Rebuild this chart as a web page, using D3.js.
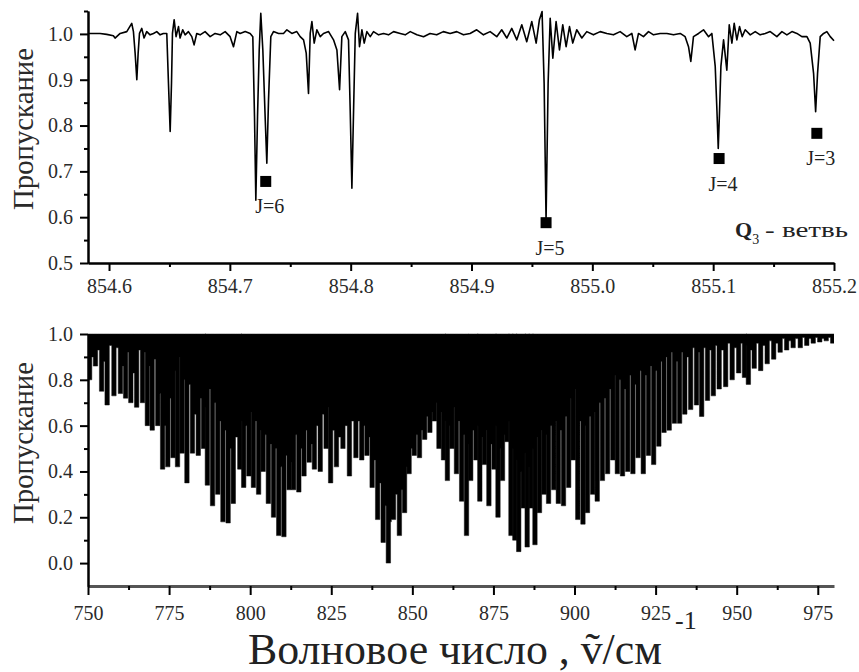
<!DOCTYPE html>
<html>
<head>
<meta charset="utf-8">
<script src="https://cdn.jsdelivr.net/npm/d3@7"></script>
<style>
  body { margin: 0; background: #fff; }
</style>
</head>
<body>
<div class="viz"></div>
<script>
/* top panel: Q3 branch, [wavenumber, transmission] */
const qBranch = [
  [854.5829,1.001],[854.5926,1.001],[854.5981,0.999],[854.6036,0.996],[854.6050,0.991],[854.6092,1.001],
  [854.6147,1.005],[854.6188,1.023],[854.6202,1.005],[854.6216,0.958],[854.6230,0.900],[854.6241,0.958],
  [854.6252,1.001],[854.6271,1.012],[854.6290,0.991],[854.6312,1.005],[854.6340,0.998],[854.6368,1.001],
  [854.6395,1.005],[854.6423,0.998],[854.6450,1.001],[854.6478,1.001],[854.6492,0.892],[854.6506,0.787],
  [854.6517,0.892],[854.6525,1.001],[854.6539,1.031],[854.6555,0.994],[854.6575,1.016],[854.6588,0.991],
  [854.6610,1.009],[854.6630,0.998],[854.6657,1.005],[854.6685,0.994],[854.6704,0.976],[854.6726,1.001],
  [854.6754,0.998],[854.6795,1.005],[854.6837,0.994],[854.6878,1.001],[854.6920,0.998],[854.6961,1.005],
  [854.7002,0.994],[854.7030,0.972],[854.7058,1.005],[854.7085,1.001],[854.7127,1.005],[854.7168,1.001],
  [854.7190,0.994],[854.7204,0.819],[854.7215,0.637],[854.7229,0.819],[854.7243,0.965],[854.7256,1.045],
  [854.7273,0.965],[854.7292,0.819],[854.7306,0.718],[854.7320,0.856],[854.7339,0.994],[854.7361,1.005],
  [854.7403,1.001],[854.7444,1.001],[854.7472,1.009],[854.7513,1.001],[854.7554,1.005],[854.7582,0.994],
  [854.7610,0.987],[854.7632,0.958],[854.7651,0.870],[854.7665,1.001],[854.7679,1.027],[854.7698,0.980],
  [854.7720,1.009],[854.7748,0.994],[854.7775,1.001],[854.7817,1.005],[854.7858,0.987],[854.7886,0.965],
  [854.7908,0.878],[854.7927,0.994],[854.7955,1.005],[854.7982,0.987],[854.7996,0.834],[854.8010,0.663],
  [854.8024,0.834],[854.8038,1.001],[854.8057,1.045],[854.8073,0.972],[854.8093,1.009],[854.8112,0.980],
  [854.8134,1.005],[854.8162,0.994],[854.8189,1.005],[854.8231,0.998],[854.8272,1.001],[854.8313,0.998],
  [854.8355,1.005],[854.8410,1.001],[854.8451,0.998],[854.8493,1.005],[854.8548,0.998],[854.8603,0.994],
  [854.8657,1.001],[854.8712,0.998],[854.8767,1.005],[854.8823,1.001],[854.8878,1.005],[854.8933,0.998],
  [854.8988,1.001],[854.9043,1.009],[854.9099,0.998],[854.9154,1.005],[854.9209,0.994],[854.9250,1.009],
  [854.9292,0.991],[854.9333,1.012],[854.9375,0.987],[854.9416,1.020],[854.9457,0.983],[854.9499,1.027],
  [854.9535,0.980],[854.9562,1.031],[854.9584,1.049],[854.9601,0.892],[854.9617,0.594],[854.9634,0.892],
  [854.9651,1.034],[854.9673,0.947],[854.9700,1.027],[854.9728,0.965],[854.9755,1.020],[854.9783,0.972],
  [854.9811,1.016],[854.9838,0.980],[854.9871,1.009],[854.9913,0.991],[854.9954,1.005],[855.0009,0.998],
  [855.0065,1.005],[855.0120,1.001],[855.0175,0.998],[855.0230,1.005],[855.0285,0.994],[855.0327,1.001],
  [855.0354,0.965],[855.0382,1.001],[855.0423,0.994],[855.0465,1.005],[855.0506,0.998],[855.0561,1.001],
  [855.0617,1.001],[855.0672,0.998],[855.0727,1.001],[855.0768,0.994],[855.0796,0.972],[855.0815,0.940],
  [855.0837,0.994],[855.0879,1.001],[855.0920,1.009],[855.0962,0.994],[855.0989,1.001],[855.1017,0.929],
  [855.1031,0.834],[855.1042,0.750],[855.1053,0.834],[855.1064,0.929],[855.1086,0.987],[855.1113,0.921],
  [855.1133,1.020],[855.1155,0.980],[855.1174,1.023],[855.1196,0.987],[855.1218,1.016],[855.1240,0.994],
  [855.1265,1.009],[855.1307,0.998],[855.1348,1.005],[855.1389,0.998],[855.1431,1.001],[855.1472,1.005],
  [855.1527,0.994],[855.1569,1.005],[855.1610,0.998],[855.1652,1.005],[855.1693,1.001],[855.1734,0.994],
  [855.1776,0.994],[855.1803,0.980],[855.1831,0.914],[855.1848,0.830],[855.1864,0.914],[855.1886,0.994],
  [855.1914,1.001],[855.1941,1.005],[855.1969,0.994],[855.2000,0.985]
];

/* assigned J lines */
const lineNu = [854.7297, 854.9617, 855.1049, 855.1858];
const lineT = [0.678, 0.588, 0.728, 0.783];
const lineJ = ["J=6", "J=5", "J=4", "J=3"];

/* bottom panel: whole band, [wavenumber, line bottom, transmission between lines] */
const band = [
  [750.5,0.80,0.90],[752.3,0.86,0.93],[754.2,0.75,0.88],[755.9,0.69,0.95],[758.0,0.73,0.94],
  [760.0,0.74,0.86],[761.6,0.72,0.92],[763.2,0.70,0.83],[765.0,0.68,0.93],[766.8,0.70,0.92],
  [768.3,0.60,0.86],[769.8,0.58,0.89],[771.5,0.60,0.74],[773.0,0.41,0.60],[774.6,0.42,0.72],
  [776.2,0.46,0.84],[777.6,0.42,0.90],[779.0,0.48,0.80],[780.5,0.35,0.78],[782.2,0.48,0.65],
  [784.0,0.47,0.72],[785.6,0.50,0.68],[786.8,0.34,0.76],[788.4,0.25,0.70],[790.0,0.30,0.62],
  [791.6,0.18,0.58],[793.2,0.175,0.50],[794.8,0.26,0.55],[796.8,0.41,0.62],[798.0,0.33,0.60],
  [799.6,0.38,0.66],[801.0,0.33,0.62],[802.6,0.30,0.58],[804.0,0.40,0.56],[805.6,0.26,0.52],
  [807.2,0.20,0.50],[808.8,0.12,0.42],[810.4,0.115,0.47],[812.0,0.32,0.44],[813.4,0.32,0.56],
  [815.0,0.31,0.50],[816.6,0.38,0.58],[818.2,0.44,0.52],[819.8,0.41,0.60],[821.6,0.40,0.65],
  [823.4,0.50,0.68],[824.8,0.35,0.58],[826.6,0.42,0.55],[828.6,0.50,0.60],[830.6,0.38,0.62],
  [832.6,0.46,0.62],[834.4,0.45,0.60],[836.0,0.47,0.55],[837.6,0.33,0.45],[839.3,0.19,0.35],
  [841.0,0.09,0.25],[842.6,0.0,0.18],[844.2,0.19,0.30],[846.0,0.12,0.32],[847.6,0.22,0.42],
  [849.0,0.39,0.50],[850.6,0.47,0.56],[852.2,0.46,0.58],[853.8,0.54,0.64],[855.4,0.57,0.66],
  [856.8,0.62,0.70],[858.2,0.50,0.66],[859.6,0.45,0.62],[860.8,0.36,0.60],[862.2,0.50,0.68],
  [863.6,0.39,0.62],[865.2,0.27,0.56],[866.7,0.12,0.52],[868.0,0.36,0.58],[869.6,0.45,0.60],
  [870.8,0.27,0.55],[872.2,0.43,0.58],[873.6,0.25,0.52],[875.2,0.41,0.60],[876.4,0.20,0.50],
  [877.8,0.36,0.56],[879.2,0.53,0.62],[880.4,0.12,0.50],[881.6,0.10,0.45],[882.8,0.05,0.40],
  [884.2,0.24,0.48],[885.4,0.07,0.42],[886.6,0.24,0.50],[887.8,0.08,0.55],[889.2,0.22,0.58],
  [890.6,0.30,0.56],[892.0,0.26,0.60],[893.6,0.32,0.62],[895.0,0.26,0.58],[896.6,0.25,0.64],
  [898.2,0.33,0.72],[899.6,0.45,0.76],[901.0,0.19,0.62],[902.6,0.17,0.60],[904.0,0.22,0.64],
  [905.6,0.30,0.66],[907.0,0.27,0.70],[908.6,0.36,0.72],[910.2,0.39,0.76],[911.8,0.45,0.82],
  [913.2,0.39,0.80],[914.8,0.38,0.76],[916.4,0.40,0.82],[918.0,0.39,0.78],[919.6,0.46,0.84],
  [921.2,0.39,0.82],[922.8,0.47,0.86],[924.4,0.43,0.84],[926.0,0.51,0.88],[927.6,0.57,0.90],
  [929.2,0.58,0.92],[930.8,0.61,0.88],[932.4,0.61,0.92],[934.0,0.65,0.90],[935.8,0.67,0.94],
  [937.6,0.69,0.92],[939.2,0.64,0.94],[941.0,0.71,0.93],[942.8,0.73,0.95],[944.6,0.76,0.93],
  [946.6,0.77,0.96],[948.6,0.80,0.94],[950.6,0.83,0.96],[952.4,0.81,0.95],[953.6,0.78,0.93],
  [955.4,0.85,0.96],[957.4,0.84,0.95],[959.4,0.87,0.97],[961.4,0.89,0.96],[963.4,0.92,0.98],
  [965.4,0.93,0.97],[967.4,0.94,0.98],[969.6,0.94,0.985],[971.6,0.95,0.98],[973.6,0.96,0.985],
  [975.6,0.965,0.98],[977.6,0.97,0.985],[979.6,0.96,0.97]
];

const topXTicks = [854.6, 854.7, 854.8, 854.9, 855.0, 855.1, 855.2];
const topXMinor = [854.65, 854.75, 854.85, 854.95, 855.05, 855.15];
const topYTicks = [0.5, 0.6, 0.7, 0.8, 0.9, 1.0];
const topYMinor = [0.55, 0.65, 0.75, 0.85, 0.95, 1.05];
const botXTicks = [750, 775, 800, 825, 850, 875, 900, 925, 950, 975];
const botXMinor = [762.5, 787.5, 812.5, 837.5, 862.5, 887.5, 912.5, 937.5, 962.5];
const botYTicks = [0.0, 0.2, 0.4, 0.6, 0.8, 1.0];
const botYMinor = [0.1, 0.3, 0.5, 0.7, 0.9];

// the figure is set in a Times-like face; use the first serif face that is really installed
function pickFont(list) {
  var ctx = document.createElement("canvas").getContext("2d");
  var probe = "Волновое mmmWWlli 854.6";
  var found = null;
  ["monospace", "sans-serif"].forEach(function (gen) {
    ctx.font = "40px " + gen;
    var base = ctx.measureText(probe).width;
    list.forEach(function (f) {
      if (found) return;
      ctx.font = "40px '" + f + "', " + gen;
      if (Math.abs(ctx.measureText(probe).width - base) > 0.5) found = f;
    });
  });
  return found;
}
var face = pickFont(["Liberation Serif", "Tinos", "Times New Roman", "DejaVu Serif",
  "Noto Serif", "FreeSerif", "Nimbus Roman", "Noto Serif CJK SC", "Noto Serif CJK JP"]);
const serif = (face ? '"' + face + '", ' : '') + '"Liberation Sans", Arimo, sans-serif';

const W = 859, H = 672;
var svg = d3.select(".viz").append("svg")
  .attr("width", W).attr("height", H)
  .attr("font-family", serif);

// scales
var tx = d3.scaleLinear().domain([854.5826, 855.2]).range([88, 834]);
var ty = d3.scaleLinear().domain([0.5, 1.05]).range([263, 11]);
var bx = d3.scaleLinear().domain([750, 980]).range([88, 834]);
var by = d3.scaleLinear().domain([-0.1, 1.0]).range([586, 334]);

function drawAxis(g, axis, width, color) {
  g.call(axis).attr("font-family", serif).attr("font-size", 20);
  g.select(".domain").attr("stroke", color || "#000").attr("stroke-width", width);
  g.selectAll(".tick line").attr("stroke", "#000").attr("stroke-width", 2);
  g.selectAll(".tick text").attr("fill", "#2a2a2a");
}

// scale a text so that its run matches the length it has in the figure
function fitText(sel, size, length) {
  sel.attr("font-size", size);
  var w = sel.node().getComputedTextLength();
  sel.attr("font-size", size * length / w);
}

/* ---------- top panel ---------- */
svg.append("clipPath").attr("id", "clipTop")
  .append("rect").attr("x", 88).attr("y", 0).attr("width", 748).attr("height", 263);

svg.append("path")
  .datum(qBranch)
  .attr("clip-path", "url(#clipTop)")
  .attr("fill", "none")
  .attr("stroke", "#000")
  .attr("stroke-width", 1.6)
  .attr("stroke-linejoin", "round")
  .attr("d", d3.line().x(d => tx(d[0])).y(d => ty(d[1])));

svg.append("g").selectAll("rect")
  .data(lineNu).enter().append("rect")
  .attr("x", (d) => tx(d) - 5.5)
  .attr("y", (d, i) => ty(lineT[i]) - 5.5)
  .attr("width", 11).attr("height", 11)
  .attr("fill", "#000");

svg.append("g").selectAll("text")
  .data(lineJ).enter().append("text")
  .attr("x", (d, i) => tx(lineNu[i]) + 4)
  .attr("y", (d, i) => ty(lineT[i]) + 32)
  .attr("text-anchor", "middle")
  .attr("fill", "#222")
  .attr("font-size", 20)
  .text((d) => d);

// Q3 branch label
var qlab = svg.append("text").attr("x", 735).attr("y", 237).attr("fill", "#222");
qlab.append("tspan").attr("font-weight", "bold").attr("font-size", 22).text("Q");
qlab.append("tspan").attr("dy", 7).attr("font-size", 14).text("3");
svg.append("text").attr("x", 765).attr("y", 237).attr("fill", "#222")
  .attr("font-size", 22)
  .attr("textLength", 83).attr("lengthAdjust", "spacingAndGlyphs")
  .text("- ветвь");

drawAxis(svg.append("g").attr("transform", "translate(0,263)"),
  d3.axisBottom(tx).tickValues(topXTicks).tickFormat(d3.format(".1f"))
    .tickSize(8).tickSizeOuter(0).tickPadding(8), 2);
drawAxis(svg.append("g").attr("transform", "translate(0,263)"),
  d3.axisBottom(tx).tickValues(topXMinor).tickFormat("").tickSize(4).tickSizeOuter(0), 2);
drawAxis(svg.append("g").attr("transform", "translate(88,0)"),
  d3.axisLeft(ty).tickValues(topYTicks).tickFormat(d3.format(".1f"))
    .tickSize(8).tickSizeOuter(0).tickPadding(7), 2);
drawAxis(svg.append("g").attr("transform", "translate(88,0)"),
  d3.axisLeft(ty).tickValues(topYMinor).tickFormat("").tickSize(4).tickSizeOuter(0), 2);

/* ---------- bottom panel ---------- */
svg.append("clipPath").attr("id", "clipBot")
  .append("rect").attr("x", 88).attr("y", 330).attr("width", 746).attr("height", 256);

var hw = 0.68;
var steps = [];
band.forEach(function (d) {
  steps.push([d[0] - hw, d[1]]);
  steps.push([d[0] + hw, d[2]]);
});
steps.push([980, band[band.length - 1][2]]);

svg.append("path")
  .datum(steps)
  .attr("clip-path", "url(#clipBot)")
  .attr("fill", "#000")
  .attr("stroke", "#111")
  .attr("stroke-width", 0.5)
  .attr("d", d3.area().curve(d3.curveStepAfter)
    .x(d => bx(d[0])).y0(by(1.0)).y1(d => by(d[1])));

drawAxis(svg.append("g").attr("transform", "translate(0,586)"),
  d3.axisBottom(bx).tickValues(botXTicks).tickSize(9).tickSizeOuter(0).tickPadding(11), 3, "#555");
drawAxis(svg.append("g").attr("transform", "translate(0,586)"),
  d3.axisBottom(bx).tickValues(botXMinor).tickFormat("").tickSize(4).tickSizeOuter(0), 0);
drawAxis(svg.append("g").attr("transform", "translate(88,0)"),
  d3.axisLeft(by).tickValues(botYTicks).tickFormat(d3.format(".1f"))
    .tickSize(8).tickSizeOuter(0).tickPadding(7), 2);
drawAxis(svg.append("g").attr("transform", "translate(88,0)"),
  d3.axisLeft(by).tickValues(botYMinor).tickFormat("").tickSize(4).tickSizeOuter(0), 2);

/* axis titles */
[129, 443].forEach(function (cy) {
  var t = svg.append("text")
    .attr("transform", "translate(33," + cy + ") rotate(-90)")
    .attr("text-anchor", "middle")
    .attr("fill", "#2a2a2a")
    .text("Пропускание");
  fitText(t, 28, 162);
});

var xt = svg.append("text").attr("x", 248).attr("y", 664)
  .attr("fill", "#222");
xt.append("tspan").text("Волновое число , ");
xt.append("tspan").text("\u1E7D");
xt.append("tspan").text("/см");
fitText(xt, 44, 414);
svg.append("text").attr("x", 248 + 414 + 13).attr("y", 629)
  .attr("fill", "#222").attr("font-size", 26).text("-1");
</script>
</body>
</html>
